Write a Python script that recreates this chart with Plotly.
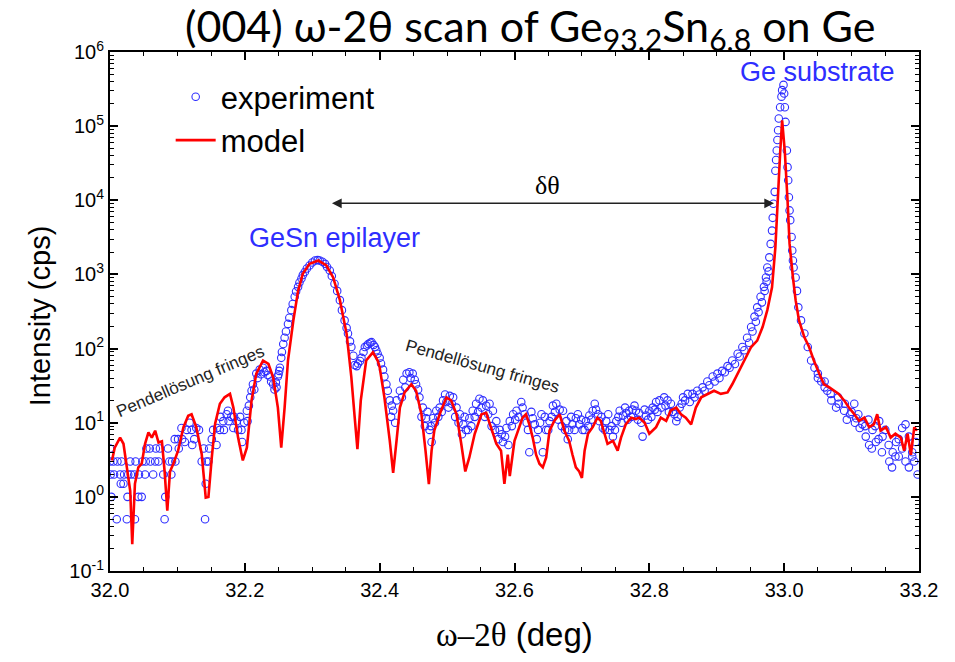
import plotly.graph_objects as go

# ---------------- model (red line) ----------------
model_theta = [32.003, 32.007, 32.015, 32.020, 32.025, 32.030, 32.033, 32.037, 32.042, 32.047,
               32.052, 32.057, 32.062, 32.067, 32.072, 32.077, 32.081, 32.085, 32.089, 32.094,
               32.101, 32.109, 32.116, 32.121, 32.128, 32.136, 32.142, 32.146, 32.151, 32.156,
               32.163, 32.170, 32.178, 32.183, 32.190, 32.197, 32.203, 32.210, 32.217, 32.227,
               32.235, 32.242, 32.249, 32.254, 32.259, 32.264, 32.272, 32.279, 32.286, 32.296,
               32.309, 32.321, 32.331, 32.341, 32.351, 32.358, 32.363, 32.367, 32.372, 32.380,
               32.390, 32.397, 32.400, 32.407, 32.415, 32.420, 32.425, 32.430, 32.437, 32.447,
               32.454, 32.462, 32.468, 32.473, 32.477, 32.481, 32.489, 32.499, 32.506, 32.514,
               32.521, 32.527, 32.533, 32.541, 32.551, 32.558, 32.565, 32.573, 32.580, 32.585,
               32.590, 32.593, 32.600, 32.607, 32.612, 32.617, 32.622, 32.627, 32.632, 32.637,
               32.642, 32.647, 32.652, 32.659, 32.667, 32.674, 32.681, 32.686, 32.691, 32.696,
               32.700, 32.704, 32.709, 32.716, 32.723, 32.728, 32.733, 32.738, 32.746, 32.753,
               32.758, 32.765, 32.773, 32.780, 32.785, 32.793, 32.800, 32.810, 32.817, 32.825,
               32.832, 32.840, 32.847, 32.854, 32.862, 32.869, 32.877, 32.886, 32.896, 32.906,
               32.916, 32.923, 32.931, 32.941, 32.951, 32.960, 32.968, 32.975, 32.982, 32.987,
               32.990, 32.994, 32.997, 33.001, 33.005, 33.008, 33.013, 33.017, 33.022, 33.030,
               33.037, 33.044, 33.052, 33.059, 33.067, 33.074, 33.081, 33.089, 33.096, 33.104,
               33.111, 33.119, 33.126, 33.133, 33.138, 33.143, 33.151, 33.158, 33.165, 33.173,
               33.178, 33.183, 33.188, 33.193, 33.197]
model_cps = [3.1, 4.6, 6.3, 5.2, 2.5, 1.2, 0.23, 1.5, 2.5, 2.8,
             5.2, 7.4, 6.3, 7.8, 5.4, 5.6, 2.2, 0.65, 2.2, 2.8,
             4.2, 8.7, 12.4, 13, 8.7, 3.8, 0.98, 1.0, 3.4, 9.8,
             18, 22, 24.5, 16, 6.3, 3.1, 4.6, 20, 46, 69,
             62, 41, 16, 4.6, 16, 69, 240, 600, 1020, 1390,
             1540, 1320, 910, 450, 158, 41, 11.7, 4.4, 20, 69,
             89, 69, 56, 22, 5.7, 2.1, 5.7, 16, 25.6, 33,
             27, 13, 4.2, 1.48, 4.2, 7.8, 13, 22, 20, 13,
             5.2, 2.2, 3.4, 7.1, 13, 13.6, 8.7, 5.2, 4.2, 1.5,
             3.7, 1.9, 5.7, 8.7, 11.7, 13, 9.5, 6.3, 3.7, 2.8,
             2.5, 3.4, 7.8, 10.6, 13, 7.8, 5.7, 3.7, 2.5, 2.2,
             1.8, 4.2, 7.1, 8.7, 11.7, 10.6, 7.1, 5.2, 5.7, 4.2,
             6.3, 9.5, 11.7, 11.2, 11.7, 10, 7.1, 8.7, 11.7, 10.6,
             14.7, 16, 13, 11.7, 9.5, 16, 22, 24.5, 27, 24.5,
             25.6, 33, 46, 69, 105, 128, 195, 330, 670, 2340,
             10000, 43000, 120000, 45000, 10000, 2600, 910, 450, 240, 142,
             105, 69, 46, 33, 30, 27, 24.5, 20, 16, 13,
             10.6, 11.7, 8.7, 9.5, 13, 7.8, 8.7, 6.3, 7.1, 6.3,
             4.2, 7.1, 3.7, 8.7, 7.8]

# ---------------- experiment (blue circles) ----------------
exp_theta_a = [32.000, 32.000, 32.001, 32.002, 32.005, 32.006, 32.010, 32.011, 32.015, 32.016,
               32.017, 32.020, 32.021, 32.025, 32.026, 32.027, 32.030, 32.031, 32.036, 32.037,
               32.038, 32.042, 32.043, 32.047, 32.048, 32.052, 32.053, 32.054, 32.059, 32.060,
               32.064, 32.067, 32.068, 32.072, 32.074, 32.079, 32.081, 32.082, 32.086, 32.088,
               32.091, 32.092, 32.096, 32.097, 32.101, 32.102, 32.106, 32.107, 32.111, 32.114,
               32.118, 32.121, 32.122, 32.125, 32.128, 32.132, 32.136, 32.139, 32.141, 32.142,
               32.143, 32.146, 32.147, 32.151, 32.153, 32.158, 32.159, 32.163, 32.164, 32.168,
               32.169, 32.173, 32.175, 32.176, 32.180, 32.183, 32.184, 32.188, 32.190, 32.193,
               32.195, 32.196, 32.199, 32.203, 32.204]
exp_cps_a = [4.5, 3, 2, 1, 3, 2, 0.5, 3, 2, 1.5,
             3, 1.5, 2, 0.5, 1, 2, 3, 2, 2, 0.5,
             3, 1, 2, 1, 3, 2, 3, 4.5, 4.5, 3,
             2, 3, 4.5, 3, 4.5, 2, 0.5, 1, 4.5, 3,
             2, 3, 6, 3, 6, 4.5, 8.5, 6, 5.5, 8,
             10, 8, 5, 6, 8.5, 8, 3, 4.5, 0.5, 1.5,
             3, 3, 4.5, 6, 8, 5, 8.5, 8, 12, 10.5,
             8, 13, 14.5, 10.5, 12, 8.5, 12, 10.5, 8, 12,
             8, 5.5, 10, 14.5, 10.5]

exp_theta_b = [32.206, 32.208, 32.210, 32.212, 32.214, 32.217, 32.219, 32.222, 32.224, 32.227,
               32.229, 32.232, 32.234, 32.237, 32.239, 32.242, 32.244, 32.246, 32.247, 32.249,
               32.250, 32.251, 32.252, 32.254, 32.255, 32.257, 32.259, 32.261, 32.264, 32.266,
               32.269, 32.271, 32.274, 32.276, 32.279, 32.281, 32.284, 32.286, 32.289, 32.292,
               32.296, 32.300, 32.304, 32.308, 32.311, 32.315, 32.319, 32.322, 32.326, 32.329,
               32.333, 32.337, 32.341, 32.344, 32.348, 32.351, 32.353, 32.356, 32.358, 32.361,
               32.363, 32.366, 32.368, 32.371, 32.373, 32.376, 32.378, 32.381, 32.383, 32.386,
               32.388, 32.391, 32.393, 32.395, 32.397, 32.400, 32.402, 32.405, 32.407, 32.410,
               32.412]
exp_cps_b = [17, 22, 27, 33, 28, 46, 40, 52, 45, 55,
             48, 50, 44, 42, 36, 33, 28, 35, 30, 42,
             45, 50, 55, 75, 90, 115, 140, 170, 215, 260,
             330, 400, 500, 590, 680, 780, 880, 980, 1080, 1200,
             1320, 1450, 1540, 1560, 1540, 1480, 1390, 1260, 1130, 950,
             750, 600, 450, 330, 240, 190, 160, 125, 105, 80,
             60, 58, 63, 68, 75, 90, 105, 110, 115, 120,
             122, 112, 105, 95, 85, 75, 63, 52, 42, 33,
             27]

exp_theta_c = [32.415, 32.418, 32.420, 32.425, 32.430, 32.435, 32.440, 32.444, 32.449, 32.454,
               32.459, 32.464, 32.469, 32.474, 32.477, 32.479, 32.484, 32.489, 32.494, 32.499,
               32.504, 32.509, 32.514, 32.519, 32.524, 32.528, 32.533, 32.538, 32.543, 32.548,
               32.553, 32.558, 32.563, 32.568, 32.573, 32.578, 32.583, 32.588, 32.593, 32.598,
               32.603, 32.610, 32.615, 32.620, 32.622, 32.627, 32.630, 32.635, 32.640, 32.642,
               32.647, 32.652, 32.657, 32.662, 32.667, 32.672, 32.677, 32.681, 32.686, 32.691,
               32.696, 32.701, 32.706, 32.711, 32.716, 32.721, 32.726, 32.731, 32.736, 32.741,
               32.746, 32.751, 32.756, 32.761, 32.766, 32.770, 32.775, 32.780, 32.785, 32.790,
               32.795, 32.800, 32.805, 32.810, 32.815, 32.822, 32.827]
exp_cps_c = [20, 17, 14.5, 20, 27, 38, 46, 48, 46, 33,
             22, 16, 11.5, 8, 5.5, 11.5, 14.5, 16, 20, 19,
             23, 22, 16, 13, 9.5, 8, 11.5, 14.5, 18, 21,
             20, 17, 18, 14.5, 10.5, 8, 5.5, 8.5, 10.5, 13,
             14.5, 19, 13, 8, 4, 11.5, 9.5, 8, 13, 4,
             8, 10.5, 17, 18, 15, 14.5, 10.5, 8, 9.5, 11.5,
             9.5, 8, 10.5, 12.5, 14.5, 15, 10.5, 8.5, 10.5, 8,
             6.5, 10.5, 14.5, 12.5, 13.5, 14.5, 15, 14.5, 13.5, 6.5,
             12.5, 14.5, 16, 19, 20, 22, 20]

exp_theta_c2 = [32.417, 32.423, 32.433, 32.438, 32.446, 32.452, 32.457, 32.462, 32.467, 32.471,
                32.476, 32.482, 32.487, 32.492, 32.497, 32.502, 32.507, 32.512, 32.517, 32.522,
                32.526, 32.531, 32.536, 32.541, 32.546, 32.551, 32.556, 32.561, 32.566, 32.571,
                32.576, 32.581, 32.586, 32.591, 32.596, 32.601, 32.606, 32.612, 32.618, 32.625,
                32.633, 32.638, 32.645, 32.650, 32.655, 32.660, 32.665, 32.670, 32.675, 32.679,
                32.684, 32.689, 32.694, 32.699, 32.704, 32.709, 32.714, 32.719, 32.724, 32.729,
                32.734, 32.739, 32.744, 32.749, 32.754, 32.759, 32.764, 32.768, 32.773, 32.778,
                32.783, 32.788, 32.793, 32.798, 32.803, 32.808, 32.812, 32.818, 32.824, 32.829]
exp_cps_c2 = [12, 10, 22, 30, 40, 38, 28, 12, 9, 14,
              9, 10, 12, 14, 24, 16, 18, 12, 10, 7,
              12, 8, 9, 12, 14, 16, 12, 13, 9, 8,
              6, 7, 6.5, 5, 9, 11, 12, 16, 10, 14,
              6, 10, 12, 8, 12, 14, 11, 9, 8, 6,
              12, 8, 13, 11, 8, 9, 11, 18, 13, 12,
              8, 13, 9, 8, 12, 10, 16, 11, 12, 17,
              11, 10, 15, 11, 12, 15, 14, 16, 17, 14]

exp_theta_d = [32.832, 32.835, 32.837, 32.840, 32.842, 32.845, 32.848, 32.850, 32.853, 32.857,
               32.860, 32.864, 32.867, 32.871, 32.874, 32.879, 32.882, 32.886, 32.889, 32.894,
               32.897, 32.901, 32.904, 32.908, 32.912, 32.916, 32.919, 32.923, 32.927, 32.931,
               32.934, 32.938, 32.941, 32.945, 32.948, 32.951, 32.953, 32.956, 32.958, 32.960,
               32.962, 32.965, 32.967, 32.970, 32.971, 32.973, 32.974, 32.975, 32.977, 32.978,
               32.980, 32.982, 32.983, 32.984, 32.986, 32.987, 32.988, 32.989, 32.990, 32.991,
               32.992, 32.994, 32.996, 32.997, 32.999, 33.000, 33.001, 33.002, 33.004, 33.005,
               33.006, 33.007, 33.008, 33.009, 33.011, 33.012, 33.013, 33.014, 33.017, 33.019,
               33.021, 33.025, 33.030, 33.035, 33.040, 33.045, 33.050, 33.055, 33.060, 33.064,
               33.069, 33.077, 33.081, 33.089, 33.093, 33.098, 33.104, 33.107, 33.112, 33.116,
               33.121, 33.126, 33.131, 33.136, 33.141, 33.146, 33.156, 33.161, 33.166, 33.170,
               33.175, 33.180, 33.185, 33.190, 33.193, 33.195]
exp_cps_d = [18, 14, 13, 10.5, 12, 16, 18, 22, 20, 24.5,
             19, 24.5, 22, 27, 24, 30, 27, 36, 32, 42,
             36, 46, 40, 50, 48, 58, 55, 69, 62, 85,
             78, 105, 95, 140, 120, 195, 170, 270, 230, 360,
             310, 500, 420, 680, 600, 910, 800, 1240, 1100, 1700,
             2580, 3900, 5800, 9000, 13000, 25000, 35000, 47000, 65000, 88000,
             127000, 180000, 250000, 306000, 360000, 276000, 180000, 114000, 47000, 28000,
             18600, 11000, 7300, 5400, 3200, 2100, 1540, 1240, 910, 600,
             360, 240, 160, 105, 69, 55, 46, 36, 36, 27,
             24.5, 16, 18, 14.5, 11, 13, 18, 11.5, 8.5, 9.5,
             6.5, 5, 8, 5.5, 10.5, 6.5, 3, 4, 5.5, 3.5,
             8.5, 9.5, 6.5, 3.5, 3, 5.5]

exp_theta_e = [33.050, 33.060, 33.070, 33.080, 33.090, 33.100, 33.105, 33.110, 33.120, 33.125,
               33.130, 33.135, 33.140, 33.145, 33.150, 33.155, 33.160, 33.165, 33.170, 33.175,
               33.180, 33.185, 33.190, 33.198]
exp_cps_e = [40, 30, 20, 22, 18, 14, 10, 13, 9, 11,
             4.5, 9, 6, 4, 8, 5, 2.5, 3.5, 6, 4.5,
             3, 2.5, 4, 2]

exp_theta = exp_theta_a + exp_theta_b + exp_theta_c + exp_theta_c2 + exp_theta_d + exp_theta_e
exp_cps = exp_cps_a + exp_cps_b + exp_cps_c + exp_cps_c2 + exp_cps_d + exp_cps_e

# ---------------- axis ticks ----------------
x_ticks = [32.0, 32.2, 32.4, 32.6, 32.8, 33.0, 33.2]
y_exponents = [-1, 0, 1, 2, 3, 4, 5, 6]
y_tick_vals = [10.0 ** e for e in y_exponents]
y_tick_text = ["10<sup>%d</sup>" % e for e in y_exponents]
y_minor_vals = [m * 10.0 ** e for e in y_exponents[:-1] for m in range(2, 10)]

BLUE = "#2e2eff"
RED = "#ff0000"
SANS = "Liberation Sans, Arial, sans-serif"
SERIF = "Liberation Serif, Times New Roman, serif"

fig = go.Figure()
fig.add_trace(go.Scatter(
    x=exp_theta, y=exp_cps, mode="markers", name="experiment",
    marker=dict(symbol="circle-open", size=7.5, color=BLUE, line=dict(width=1.1, color=BLUE)),
))
fig.add_trace(go.Scatter(
    x=model_theta, y=model_cps, mode="lines", name="model",
    line=dict(color=RED, width=2.6),
))

fig.update_xaxes(
    range=[32.0, 33.2], tickvals=x_ticks, tickformat=".1f",
    ticks="inside", ticklen=8, tickwidth=1.5, tickcolor="black",
    minor=dict(dtick=0.05, tick0=32.0, ticks="inside", ticklen=4, tickwidth=1.2, tickcolor="black"),
    showline=True, linewidth=2, linecolor="black", mirror="ticks",
    showgrid=False, zeroline=False,
    tickfont=dict(family=SANS, size=20, color="black"),
)
fig.update_yaxes(
    type="log", range=[-1, 6], tickmode="array", tickvals=y_tick_vals, ticktext=y_tick_text,
    ticks="inside", ticklen=8, tickwidth=1.5, tickcolor="black",
    minor=dict(tickmode="array", tickvals=y_minor_vals, ticks="inside", ticklen=4, tickwidth=1.2, tickcolor="black"),
    showline=True, linewidth=2, linecolor="black", mirror="ticks",
    showgrid=False, zeroline=False,
    tickfont=dict(family=SANS, size=20, color="black"),
)

annotations = [
    dict(text="(004) ω-2θ scan of Ge<sub>93.2</sub>Sn<sub>6.8</sub> on Ge", xref="paper", yref="paper",
         x=0.519, y=1.046, xanchor="center", yanchor="middle", showarrow=False,
         font=dict(family="Lato, Open Sans, sans-serif", size=43, color="black")),
    dict(text="Intensity (cps)", xref="paper", yref="paper", x=-0.0865, y=0.491,
         textangle=-90, xanchor="center", yanchor="middle", showarrow=False,
         font=dict(family=SANS, size=29, color="black")),
    dict(text='<span style="font-family:Liberation Serif">ω–2θ</span> (deg)', xref="paper", yref="paper",
         x=0.5006, y=-0.123, xanchor="center", yanchor="middle", showarrow=False,
         font=dict(family=SANS, size=33, color="black")),
    dict(text="Ge substrate", x=33.049, y=5.73, xref="x", yref="y", showarrow=False,
         font=dict(family=SANS, size=27, color=BLUE)),
    dict(text="GeSn epilayer", x=32.333, y=3.486, xref="x", yref="y", showarrow=False,
         font=dict(family=SANS, size=27, color=BLUE)),
    dict(text="δθ", x=32.649, y=4.20, xref="x", yref="y", showarrow=False,
         font=dict(family=SERIF, size=26, color="black")),
    dict(text="", x=32.985, y=3.96, ax=32.327, ay=3.96, xref="x", yref="y", axref="x", ayref="y",
         showarrow=True, arrowhead=2, startarrowhead=2, arrowside="end+start", arrowsize=1.3,
         arrowwidth=1.5, arrowcolor="#222222"),
    dict(text="Pendellösung fringes", x=32.119, y=1.554, xref="x", yref="y", showarrow=False,
         textangle=-23, font=dict(family=SANS, size=17, color="#222222")),
    dict(text="Pendellösung fringes", x=32.553, y=1.757, xref="x", yref="y", showarrow=False,
         textangle=15.5, font=dict(family=SANS, size=17, color="#222222")),
]

fig.update_layout(
    width=955, height=662,
    margin=dict(l=110, r=36, t=52, b=91),
    paper_bgcolor="white", plot_bgcolor="white",
    annotations=annotations,
    showlegend=True,
    legend=dict(x=0.075, y=0.965, xanchor="left", yanchor="top", bgcolor="rgba(0,0,0,0)",
                font=dict(family=SANS, size=31, color="black"), itemwidth=40),
)

fig.write_html("out.html")
